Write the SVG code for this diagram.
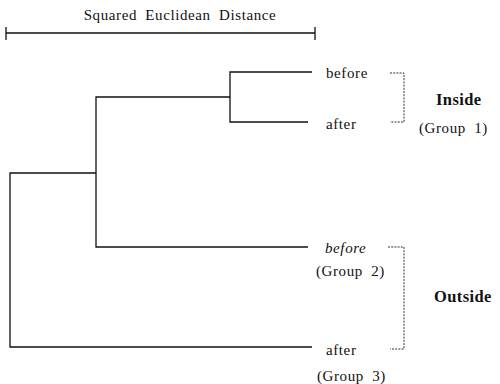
<svg xmlns="http://www.w3.org/2000/svg" width="500" height="384" viewBox="0 0 500 384">
<style>
text{font-family:"Liberation Serif","DejaVu Serif",serif;font-size:15px;letter-spacing:0.6px;word-spacing:4px;fill:#111}
.b{font-weight:bold;font-size:16.5px;letter-spacing:0.4px}
.i{font-style:italic}
.ln{stroke:#111;stroke-width:1.3;fill:none}
.br{stroke:#333;stroke-width:1;fill:none;stroke-dasharray:2,1.2}
</style>
<rect width="500" height="384" fill="#fff"/>
<g id="scale">
<text x="180" y="20" text-anchor="middle">Squared Euclidean Distance</text>
<path class="ln" d="M6,33H315M6,27V40M315,27V40"/>
</g>
<g id="connectors">
<path class="ln" d="M312,72H230V122H308"/>
<path class="ln" d="M230,97H96V247H308"/>
<path class="ln" d="M96,173H10V347H312"/>
</g>
<g id="brackets">
<path class="br" d="M390,73H404V122H390"/>
<path class="br" d="M388,247H404V349H390"/>
</g>
<g id="n-before1"><text x="326" y="78">before</text></g>
<g id="n-after1"><text x="326" y="129">after</text></g>
<g id="n-before2"><text x="325" y="253" class="i">before</text><text x="316" y="276">(Group 2)</text></g>
<g id="n-after3"><text x="326" y="355">after</text><text x="317" y="381">(Group 3)</text></g>
<g id="n-inside"><text x="436" y="105" class="b">Inside</text><text x="419" y="133">(Group 1)</text></g>
<g id="n-outside"><text x="434" y="302" class="b">Outside</text></g>
</svg>
